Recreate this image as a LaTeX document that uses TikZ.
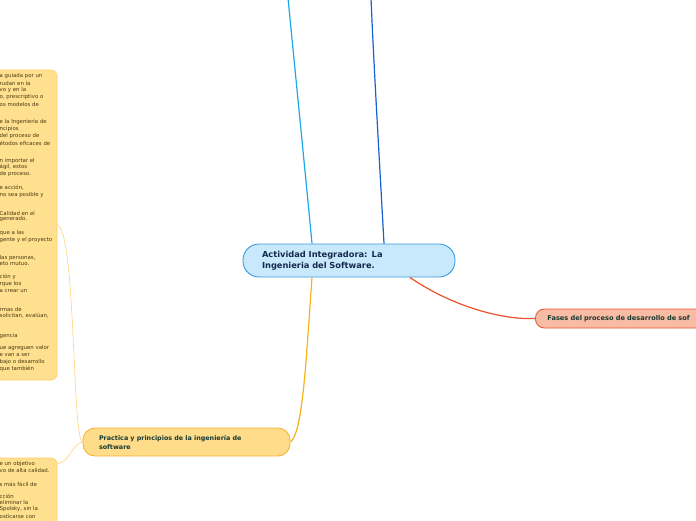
\documentclass[tikz,border=0pt]{standalone}
\usepackage{fontspec}
\setmainfont{DejaVu Sans}
\definecolor{hubfill}{HTML}{C8E9FB}
\definecolor{hubline}{HTML}{3A9BDC}
\definecolor{hubtext}{HTML}{14294D}
\definecolor{fasesfill}{HTML}{F8BBA3}
\definecolor{fasesline}{HTML}{E65A35}
\definecolor{pracfill}{HTML}{FFDC8A}
\definecolor{pracline}{HTML}{F4B53A}
\definecolor{nodetext}{HTML}{173A33}
\definecolor{notefill}{HTML}{FFE08F}
\definecolor{noteline}{HTML}{FFCB66}
\definecolor{notetextc}{HTML}{4A3A10}
\definecolor{cyanlink}{HTML}{1AA9E6}
\definecolor{bluelink}{HTML}{1660CF}
\definecolor{redlink}{HTML}{E8512B}
\definecolor{yellink}{HTML}{F5B21A}
\definecolor{thinlink}{HTML}{FFD27F}
\tikzset{
  hubbox/.style={draw=hubline,fill=hubfill,line width=0.9pt,rounded corners=16pt,
    text width=174pt,inner xsep=19pt,minimum height=33pt,align=left,
    font=\bfseries\fontsize{8.3}{11}\selectfont,text=hubtext},
  fasesbox/.style={draw=fasesline,fill=fasesfill,line width=0.9pt,rounded corners=9pt,
    text width=201pt,inner xsep=12pt,minimum height=19pt,align=left,
    font=\bfseries\fontsize{6.6}{8}\selectfont,text=nodetext},
  pracbox/.style={draw=pracline,fill=pracfill,line width=0.9pt,rounded corners=12pt,
    text width=175pt,inner xsep=16pt,minimum height=28pt,align=left,
    font=\bfseries\fontsize{6.4}{9}\selectfont,text=nodetext},
  notebox/.style={draw=noteline,fill=notefill,line width=0.6pt,rounded corners=6pt},
  notetext/.style={anchor=west,inner sep=0pt,text=notetextc,font=\fontsize{5.4}{6.8}\selectfont},
  linkline/.style={line width=1.2pt}
}
\begin{document}
\begin{tikzpicture}[x=1pt,y=-1pt]
  \useasboundingbox (0,0) rectangle (696,520);

  % note boxes on the left
  \draw[notebox] (-10,70) rectangle (57,380);
  \draw[notebox] (-10,458) rectangle (57,540);

  \foreach \y/\t in {76/{a guiada por un},83/{rudan en la},90/{vo y en la},
      97/{o, prescriptivo o},104/{os modelos de},
      122/{e la Ingeniería de},129/{ncipios},136/{del proceso de},143/{étodos eficaces de},
      161/{n importar el},167/{ágil, estos},174/{de proceso.},
      188/{e acción,},195/{no sea posible y},
      213/{Calidad en el},219/{generado.},
      233/{que a las},240/{gente y el proyecto},
      258/{las personas,},264/{eto mutuo.},
      277/{ción y},284/{rque los},291/{a crear un},
      309/{rmas de},316/{solicitan, evalúan,},
      336/{gencia},
      348/{ue agreguen valor},355/{e van a ser},362/{bajo o desarrollo},369/{que también},
      464/{e un objetivo},470/{vo de alta calidad.},
      484/{s más fácil de},
      496/{cción},502/{eliminar la},509/{Spolsky, sin la},516/{osticarse con}}
    \node[notetext] (t\y) at (-0.5,\y) {\t};

  % main topics
  \node[hubbox] (hub) at (349,260.5) {Actividad Integradora: La\\Ingenieria del Software.};
  \node[fasesbox,anchor=west] (fases) at (535,318.5) {Fases del proceso de desarrollo de sof};
  \node[pracbox] (prac) at (186.5,442) {Practica y principios de la ingeniería de\\software};

  % free ends at the top edge
  \coordinate (topA) at (288,-2);
  \coordinate (topB) at (371,-2);

  % connectors
  \draw[linkline,cyanlink] ([xshift=-37pt]hub.north) .. controls (306,180) and (296,80) .. (topA);
  \draw[linkline,bluelink] ([xshift=35pt]hub.north) .. controls (380,170) and (374,70) .. (topB);
  \draw[linkline,redlink] ([xshift=61pt]hub.south) .. controls (450,305) and (500,320) .. (fases.west);
  \draw[linkline,yellink] ([xshift=-37pt]hub.south) .. controls (306,360) and (303,432) .. (prac.east);
  \draw[line width=0.6pt,thinlink] (prac.west) .. controls (72,440) and (76,228) .. (57,225);
  \draw[line width=0.6pt,thinlink] (prac.west) .. controls (72,444) and (70,462) .. (57,464);
\end{tikzpicture}
\end{document}
